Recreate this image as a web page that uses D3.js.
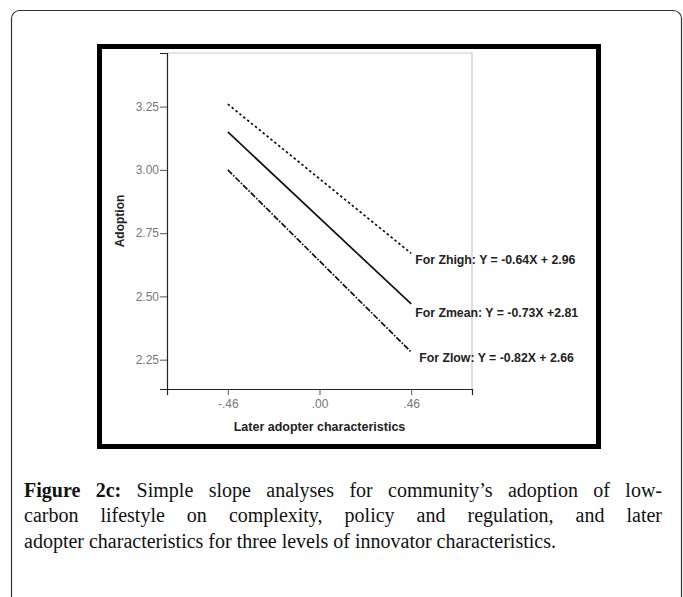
<!DOCTYPE html>
<html>
<head>
<meta charset="utf-8">
<script src="https://cdn.jsdelivr.net/npm/d3@7/dist/d3.min.js"></script>
<style>
  html, body { margin: 0; padding: 0; background: #fff; }
  svg { display: block; }
</style>
</head>
<body>
<svg id="chart" width="683" height="597"></svg>
<script>
// ---- data ----
const xPoints = [-0.46, 0.46];
const xTickValues = [-0.46, 0, 0.46];
const xTickLabels = ["-.46", ".00", ".46"];
const yTickValues = [2.25, 2.50, 2.75, 3.00, 3.25];
const yTickLabels = ["2.25", "2.50", "2.75", "3.00", "3.25"];
const seriesNames = ["Zhigh", "Zmean", "Zlow"];
const zhighValues = [3.26, 2.67];
const zmeanValues = [3.15, 2.47];
const zlowValues = [3.00, 2.28];
const seriesLabels = [
  "For Zhigh: Y = -0.64X + 2.96",
  "For Zmean: Y = -0.73X +2.81",
  "For Zlow: Y = -0.82X + 2.66"
];
const xTitle = "Later adopter characteristics";
const yTitle = "Adoption";
const captionBold = "Figure 2c:";
const captionLines = [
  " Simple slope analyses for community\u2019s adoption of low-",
  "carbon lifestyle on complexity, policy and regulation, and later",
  "adopter characteristics for three levels of innovator characteristics."
];

// ---- layout ----
const svg = d3.select("#chart");
const plot = { left: 167, right: 472, top: 53, bottom: 389 };
const sans = "'Liberation Sans', Arial, sans-serif";
const serif = "'Liberation Serif', 'Times New Roman', serif";

// outer card
svg.append("rect")
  .attr("x", 11.5).attr("y", 10.5)
  .attr("width", 670).attr("height", 640)
  .attr("rx", 8).attr("ry", 8)
  .attr("fill", "#fff").attr("stroke", "#333").attr("stroke-width", 1.2);

// thick frame
svg.append("rect")
  .attr("x", 99.5).attr("y", 46.5)
  .attr("width", 499).attr("height", 400)
  .attr("fill", "#fff").attr("stroke", "#000").attr("stroke-width", 5);

const x = d3.scaleLinear().domain([-0.765, 0.765]).range([plot.left, plot.right]);
const y = d3.scaleLinear().domain([2.134, 3.462]).range([plot.bottom, plot.top]);

// plot box light borders (top and right)
svg.append("path")
  .attr("d", `M${plot.left},${plot.top}H${plot.right}V${plot.bottom}`)
  .attr("fill", "none").attr("stroke", "#c8c8c8").attr("stroke-width", 1.2);

// y axis
const yAxis = d3.axisLeft(y)
  .tickValues(yTickValues)
  .tickFormat((d, i) => yTickLabels[i])
  .tickSize(7).tickPadding(1);
const gy = svg.append("g").attr("transform", `translate(${plot.left},0)`).call(yAxis);
gy.select(".domain").attr("stroke", "#222").attr("stroke-width", 1.2);
gy.selectAll(".tick line").attr("stroke", "#555");
gy.selectAll(".tick text")
  .attr("font-family", sans)
  .attr("font-size", 12).attr("fill", "#777");

// x axis
const xAxis = d3.axisBottom(x)
  .tickValues(xTickValues)
  .tickFormat((d, i) => xTickLabels[i])
  .tickSize(6).tickPadding(4);
const gx = svg.append("g").attr("transform", `translate(0,${plot.bottom})`).call(xAxis);
gx.select(".domain").attr("stroke", "#222").attr("stroke-width", 1.2);
gx.selectAll(".tick line").attr("stroke", "#555");
gx.selectAll(".tick text")
  .attr("font-family", sans)
  .attr("font-size", 12).attr("fill", "#777");

// axis titles
svg.append("text")
  .attr("x", (plot.left + plot.right) / 2).attr("y", 431)
  .attr("text-anchor", "middle")
  .attr("font-family", sans)
  .attr("font-size", 12.5).attr("font-weight", "bold").attr("fill", "#222")
  .text(xTitle);
svg.append("text")
  .attr("transform", `translate(124,${(plot.top + plot.bottom) / 2}) rotate(-90)`)
  .attr("text-anchor", "middle")
  .attr("font-family", sans)
  .attr("font-size", 12).attr("font-weight", "bold").attr("fill", "#222")
  .text(yTitle);

// series lines
const series = [
  { name: seriesNames[0], values: zhighValues, dash: "2.5,2.5", label: seriesLabels[0], dx: 4, dy: 11 },
  { name: seriesNames[1], values: zmeanValues, dash: null, label: seriesLabels[1], dx: 4, dy: 13 },
  { name: seriesNames[2], values: zlowValues, dash: "6,1.6,1.6,1.6", label: seriesLabels[2], dx: 8, dy: 10 }
];
const line = d3.line().x(d => x(d[0])).y(d => y(d[1]));
series.forEach(s => {
  const pts = xPoints.map((xv, i) => [xv, s.values[i]]);
  svg.append("path")
    .datum(pts)
    .attr("d", line)
    .attr("fill", "none")
    .attr("stroke", "#111")
    .attr("stroke-width", 1.7)
    .attr("stroke-dasharray", s.dash);
  const last = pts[pts.length - 1];
  svg.append("text")
    .attr("x", x(last[0]) + s.dx)
    .attr("y", y(last[1]) + s.dy)
    .attr("font-family", sans)
    .attr("font-size", 12.3).attr("font-weight", "bold").attr("fill", "#222")
    .text(s.label);
});

// caption (justified by word spacing, slightly condensed to mimic Cambria)
const capLeft = 24, capRight = 662, capTop = 497, capLH = 25.3, capFs = 20;
const probe = svg.append("text").attr("font-family", serif).attr("font-size", capFs).text(captionLines[2]);
const w3 = probe.node().getComputedTextLength();
probe.remove();
const sx = Math.min(1, 534 / w3);

captionLines.forEach((ln, i) => {
  const g = svg.append("g")
    .attr("transform", `translate(${capLeft},${capTop + i * capLH}) scale(${sx},1)`);
  const t = g.append("text")
    .attr("x", 0).attr("y", 0)
    .attr("font-family", serif).attr("font-size", capFs).attr("fill", "#111");
  if (i === 0) {
    t.append("tspan").attr("font-weight", "bold").text(captionBold);
    t.append("tspan").text(ln);
  } else {
    t.text(ln);
  }
  if (i < captionLines.length - 1) {
    const natural = t.node().getComputedTextLength();
    const full = (i === 0 ? captionBold + ln : ln);
    const spaces = (full.match(/ /g) || []).length;
    const target = (capRight - capLeft) / sx;
    const ws = Math.max(0, (target - natural) / spaces);
    t.attr("word-spacing", ws);
  }
});
</script>
</body>
</html>
